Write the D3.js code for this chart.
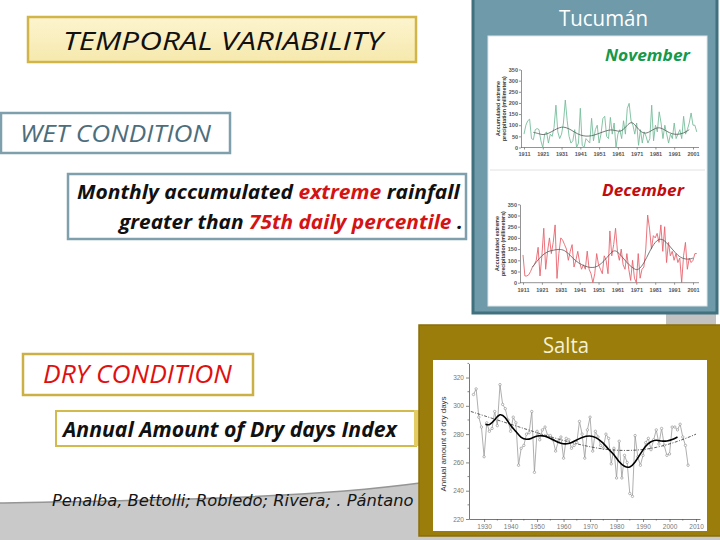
<!DOCTYPE html>
<html>
<head>
<meta charset="utf-8">
<script src="https://cdn.jsdelivr.net/npm/d3@7"></script>
<style>
body { margin: 0; background: #fff; }
svg { display: block; }
</style>
</head>
<body>
<svg id="slide" width="720" height="540"></svg>
<script>
/**
 * ----------------------------------------------------------------------------------------------------------
 * Data
 */

// Tucumán, accumulated extreme rainfall, one value per year from 1911
var tucFirstYear = 1911;
var novValues = [60, 100, 120, 127, 40, 35, 80, 85, 80, 30,
	0, 60, 70, 20, 60, 50, 90, 190, 70, 40,
	60, 110, 213, 120, 50, 20, 30, 80, 0, 20,
	176, 10, 0, 40, 30, 20, 131, 30, 80, 100,
	20, 60, 130, 140, 50, 40, 135, 60, 110, 0,
	60, 80, 40, 120, 60, 175, 198, 120, 100, 60,
	110, 10, 80, 20, 70, 50, 20, 40, 190, 30,
	100, 70, 160, 110, 40, 100, 60, 20, 60, 40,
	110, 40, 60, 80, 40, 140, 60, 80, 110, 155,
	100, 100, 70];
var novSmooth = [[1916, 68], [1919, 62], [1921, 56], [1924, 62], [1927, 78], [1930, 90], [1932, 93],
	[1935, 85], [1938, 68], [1941, 55], [1944, 50], [1947, 52], [1950, 60], [1953, 70], [1956, 78],
	[1958, 80], [1961, 73], [1963, 72], [1966, 100], [1968, 116], [1970, 104], [1972, 80], [1975, 60],
	[1978, 70], [1981, 88], [1984, 90], [1987, 72], [1990, 60], [1993, 58], [1996, 64], [1999, 80]];

var decValues = [124, 30, 30, 35, 50, 70, 80, 100, 158, 30,
	120, 243, 60, 140, 200, 130, 180, 258, 19, 130,
	200, 190, 170, 150, 100, 140, 170, 70, 100, 140,
	90, 60, 80, 60, 141, 60, 40, 0, 40, 130,
	80, 60, 40, 120, 100, 40, 231, 120, 170, 243,
	140, 100, 150, 80, 60, 130, 60, 10, 100, 20,
	0, 130, 20, 60, 70, 150, 302, 240, 150, 210,
	200, 220, 180, 258, 140, 250, 90, 180, 120, 140,
	100, 130, 90, 110, 0, 120, 180, 60, 110, 90,
	100, 130, 130];
var decSmooth = [[1916, 70], [1918, 92], [1921, 122], [1924, 140], [1927, 145], [1930, 150], [1933, 146],
	[1936, 122], [1939, 96], [1942, 80], [1945, 70], [1948, 66], [1951, 74], [1954, 98], [1957, 128],
	[1959, 145], [1961, 140], [1964, 110], [1967, 80], [1970, 60], [1972, 55], [1975, 85], [1978, 140],
	[1981, 184], [1984, 200], [1987, 180], [1990, 150], [1993, 120], [1996, 106], [1999, 104], [2001, 110]];

var tucYearTicks = ["1911", "1921", "1931", "1941", "1951", "1961", "1971", "1981", "1991", "2001"];
var tucValueTicks = [0, 50, 100, 150, 200, 250, 300, 350];

// Salta, annual amount of dry days, one value per year from 1926
var saltaFirstYear = 1926;
var saltaValues = [308, 312, 292, 285, 264, 288, 282, 284, 296, 286,
	315, 301, 298, 290, 282, 292, 288, 258, 270, 272,
	280, 281, 296, 253, 282, 276, 283, 285, 279, 279,
	276, 268, 275, 278, 263, 277, 276, 270, 272, 274,
	289, 280, 263, 283, 292, 268, 282, 278, 272, 270,
	280, 277, 259, 270, 249, 275, 249, 265, 260, 238,
	236, 279, 264, 258, 265, 274, 277, 269, 276, 283,
	273, 284, 272, 265, 266, 285, 285, 283, 287, 278,
	272, 258];
var saltaSmooth = [[1930.5, 287], [1932, 286], [1934, 290], [1936, 295], [1938, 292], [1940, 286],
	[1942, 282], [1944, 277], [1946, 276], [1948, 277], [1950, 279], [1953, 279], [1956, 276],
	[1959, 273], [1962, 273], [1964, 275], [1967, 278], [1970, 279], [1972, 278], [1975, 274],
	[1977, 269], [1979, 266], [1981, 260], [1983, 257], [1985, 256], [1987, 260], [1989, 266],
	[1991, 272], [1993, 275], [1995, 276], [1997, 275], [1999, 275], [2001, 276], [2003, 278]];
var saltaTrend = [[1925, 296], [1935, 290], [1945, 284], [1955, 278], [1965, 273], [1975, 269],
	[1985, 268], [1995, 270], [2005, 276], [2010, 280]];

var saltaYearTicks = [1930, 1940, 1950, 1960, 1970, 1980, 1990, 2000, 2010];
var saltaValueTicks = [220, 240, 260, 280, 300, 320];

/**
 * ----------------------------------------------------------------------------------------------------------
 * Helpers
 */
var svg = d3.select('#slide');
var SANS = "'Open Sans', 'Noto Sans', sans-serif";
var ARIAL = "'Liberation Sans', Arial, sans-serif";

// text squeezed to a given width (the slide uses a narrow font)
function label(g, x, y, w, parts, style) {
	var t = g.append('text')
		.attr('font-family', style.family || SANS)
		.attr('font-size', style.size)
		.attr('font-style', style.italic ? 'italic' : 'normal')
		.attr('font-weight', style.bold ? 'bold' : 'normal');
	parts.forEach(function(p) {
		t.append('tspan').attr('fill', p[1]).text(p[0]);
	});
	var len = t.node().getComputedTextLength();
	t.attr('transform', 'translate(' + x + ',' + y + ') scale(' + (w / len) + ',1)');
	return t;
}

function box(x, y, w, h, fill, stroke, sw) {
	svg.append('rect')
		.attr('x', x).attr('y', y).attr('width', w).attr('height', h)
		.attr('fill', fill).attr('stroke', stroke).attr('stroke-width', sw);
}

/**
 * ----------------------------------------------------------------------------------------------------------
 * Background
 */
svg.append('path')
	.attr('d', 'M0,503 C150,500 300,499 420,483 L720,440 L720,540 L0,540 Z')
	.attr('fill', '#c9c9c9');
svg.append('path')
	.attr('d', 'M0,503 C150,500 300,499 420,483 L720,440')
	.attr('fill', 'none').attr('stroke', '#959595').attr('stroke-width', 1.5);
svg.append('rect').attr('x', 666).attr('y', 300).attr('width', 50).attr('height', 30).attr('fill', '#c2c2c2');

/**
 * ----------------------------------------------------------------------------------------------------------
 * Left side: titles
 */
var defs = svg.append('defs');
var grad = defs.append('linearGradient').attr('id', 'gold').attr('x1', 0).attr('y1', 0).attr('x2', 0).attr('y2', 1);
grad.append('stop').attr('offset', '0%').attr('stop-color', '#fcf4cf');
grad.append('stop').attr('offset', '100%').attr('stop-color', '#f6e9ad');

box(28, 17, 388, 45, 'url(#gold)', '#d2b548', 2.5);
label(svg, 63, 50, 320, [['TEMPORAL VARIABILITY', '#111']], { size: 26, italic: true });

box(1, 113, 229, 40, '#fff', '#7e9fab', 2.5);
label(svg, 20, 142, 191, [['WET CONDITION', '#4c6e7c']], { size: 24, italic: true });

box(68, 174, 398, 65, '#fff', '#7e9fab', 2.5);
label(svg, 77, 199, 383, [['Monthly accumulated ', '#111'], ['extreme', '#d41414'], [' rainfall', '#111']],
	{ size: 20, italic: true, bold: true });
label(svg, 119, 229, 344, [['greater than ', '#111'], ['75th daily percentile', '#d41414'], [' .', '#111']],
	{ size: 20, italic: true, bold: true });

box(23, 354, 230, 41, '#fff', '#cbb046', 2.5);
label(svg, 43, 383, 189, [['DRY CONDITION', '#e01010']], { size: 25, italic: true });

box(56, 411, 360, 35, '#fff', '#d3ba4c', 2);
label(svg, 63, 437, 334, [['Annual Amount of Dry days Index', '#111']], { size: 21, italic: true, bold: true });

label(svg, 52, 506, 362, [['Penalba, Bettolli;  Robledo; Rivera; . Pántano', '#151515']],
	{ size: 15, italic: true, family: "'DejaVu Sans', sans-serif" });

/**
 * ----------------------------------------------------------------------------------------------------------
 * Tucumán panel
 */
box(473, -3, 244, 316, '#6e9aaa', '#41707f', 3);
box(488, 36, 219, 270, '#fff', '#dde6ea', 1);
svg.append('line').attr('x1', 490).attr('x2', 705).attr('y1', 170).attr('y2', 170)
	.attr('stroke', '#e2e2e2').attr('stroke-width', 1);
label(svg, 559, 26, 89, [['Tucumán', '#fff']], { size: 22 });

function monthChart(opt) {
	var g = svg.append('g');
	var x = d3.scaleLinear().domain([1911, 2001]).range([opt.x0, opt.x1]);
	var y = d3.scaleLinear().domain([0, 350]).range([opt.yb, opt.yt]);

	// axes
	var yAxis = g.append('g').attr('transform', 'translate(' + (opt.x0 - 3) + ',0)')
		.call(d3.axisLeft(y).tickValues(tucValueTicks).tickSize(2).tickSizeOuter(0));
	var xAxis = g.append('g').attr('transform', 'translate(0,' + opt.yb + ')')
		.call(d3.axisBottom(x).tickValues(tucYearTicks.map(Number)).tickFormat(d3.format('d'))
			.tickSize(2).tickSizeOuter(0));
	xAxis.select('.domain').attr('d', 'M' + (opt.x0 - 3) + ',0H' + (opt.x1 + 6));
	[yAxis, xAxis].forEach(function(a) {
		a.selectAll('path, line').attr('stroke', '#666').attr('stroke-width', 0.7);
		a.selectAll('text').attr('font-family', ARIAL).attr('font-size', 5.5)
			.attr('font-weight', 'bold').attr('fill', '#555');
	});
	yAxis.selectAll('text').attr('x', -3);
	xAxis.selectAll('text').attr('y', 5);

	// axis title
	var cy = (opt.yb + opt.yt) / 2;
	g.append('text').attr('transform', 'translate(' + (opt.x0 - 24) + ',' + cy + ') rotate(-90)')
		.attr('text-anchor', 'middle').attr('font-family', ARIAL).attr('font-size', 5.3)
		.attr('font-weight', 'bold').attr('fill', '#333').text('Accumulated extreme');
	g.append('text').attr('transform', 'translate(' + (opt.x0 - 18) + ',' + cy + ') rotate(-90)')
		.attr('text-anchor', 'middle').attr('font-family', ARIAL).attr('font-size', 5.3)
		.attr('font-weight', 'bold').attr('fill', '#333').text('precipitation (millimeters)');

	// series
	var line = d3.line()
		.x(function(d, i) { return x(tucFirstYear + i); })
		.y(function(d) { return y(d); });
	g.append('path').attr('d', line(opt.values)).attr('fill', 'none')
		.attr('stroke', opt.color).attr('stroke-width', 0.9);

	var smooth = d3.line().curve(d3.curveBasis)
		.x(function(d) { return x(d[0]); })
		.y(function(d) { return y(d[1]); });
	g.append('path').attr('d', smooth(opt.smooth)).attr('fill', 'none')
		.attr('stroke', '#555').attr('stroke-width', 0.8);

	label(g, opt.tx, opt.ty, opt.tw, [[opt.title, opt.titleColor]], { size: 16, italic: true, bold: true });
}

monthChart({ x0: 524, x1: 693, yb: 147.5, yt: 69.5, values: novValues, smooth: novSmooth,
	color: '#78bd9c', title: 'November', titleColor: '#15994a', tx: 605, ty: 61, tw: 85 });
monthChart({ x0: 523, x1: 693, yb: 282.7, yt: 204.3, values: decValues, smooth: decSmooth,
	color: '#e8646e', title: 'December', titleColor: '#c30d0d', tx: 602, ty: 196, tw: 82 });

/**
 * ----------------------------------------------------------------------------------------------------------
 * Salta panel
 */
svg.append('rect').attr('x', 414).attr('y', 410).attr('width', 6).attr('height', 36).attr('fill', '#e3cc63');
box(419, 325, 304, 211, '#9b7d0b', '#8a6e08', 1.5);
box(433, 360, 274, 171, '#fff', '#fff', 0);
label(svg, 543, 353, 46, [['Salta', '#f6f1d2']], { size: 22 });

var sx = d3.scaleLinear().domain([1924.3, 2011.5]).range([469, 700]);
var sy = d3.scaleLinear().domain([220, 330]).range([519, 363.4]);
var sg = svg.append('g');

var syAxis = sg.append('g').attr('transform', 'translate(469,0)')
	.call(d3.axisLeft(sy).tickValues(saltaValueTicks).tickSize(3).tickSizeOuter(0));
var sxAxis = sg.append('g').attr('transform', 'translate(0,519)')
	.call(d3.axisBottom(sx).tickValues(saltaYearTicks).tickFormat(d3.format('d')).tickSize(3).tickSizeOuter(0));
// minor ticks
sg.append('g').selectAll('line').data([230, 250, 270, 290, 310, 330]).join('line')
	.attr('x1', 469).attr('x2', 467.5).attr('y1', sy).attr('y2', sy);
sg.append('g').selectAll('line').data([1935, 1945, 1955, 1965, 1975, 1985, 1995, 2005]).join('line')
	.attr('y1', 519).attr('y2', 520.5).attr('x1', sx).attr('x2', sx);
sg.selectAll('line').attr('stroke', '#555').attr('stroke-width', 0.7);
sg.selectAll('path.domain').attr('stroke', '#555').attr('stroke-width', 0.8);
sg.selectAll('text').attr('font-family', ARIAL).attr('font-size', 6.5).attr('fill', '#777');
syAxis.selectAll('text').attr('x', -5);
sxAxis.selectAll('text').attr('y', 5);

sg.append('text').attr('transform', 'translate(446,444) rotate(-90)')
	.attr('text-anchor', 'middle').attr('font-family', ARIAL).attr('font-size', 8)
	.attr('fill', '#333').text('Annual amount of dry days');

var sLine = d3.line()
	.x(function(d, i) { return sx(saltaFirstYear + i); })
	.y(function(d) { return sy(d); });
sg.append('path').attr('d', sLine(saltaValues)).attr('fill', 'none')
	.attr('stroke', '#9a9a9a').attr('stroke-width', 0.8);
sg.append('g').selectAll('circle').data(saltaValues).join('circle')
	.attr('cx', function(d, i) { return sx(saltaFirstYear + i); })
	.attr('cy', function(d) { return sy(d); })
	.attr('r', 1.2).attr('fill', '#fff').attr('stroke', '#8a8a8a').attr('stroke-width', 0.6);

var sCurve = d3.line().curve(d3.curveBasis)
	.x(function(d) { return sx(d[0]); })
	.y(function(d) { return sy(d[1]); });
sg.append('path').attr('d', sCurve(saltaTrend)).attr('fill', 'none')
	.attr('stroke', '#333').attr('stroke-width', 0.8).attr('stroke-dasharray', '3,1.5,1,1.5');
sg.append('path').attr('d', sCurve(saltaSmooth)).attr('fill', 'none')
	.attr('stroke', '#000').attr('stroke-width', 1.6);
</script>
</body>
</html>
